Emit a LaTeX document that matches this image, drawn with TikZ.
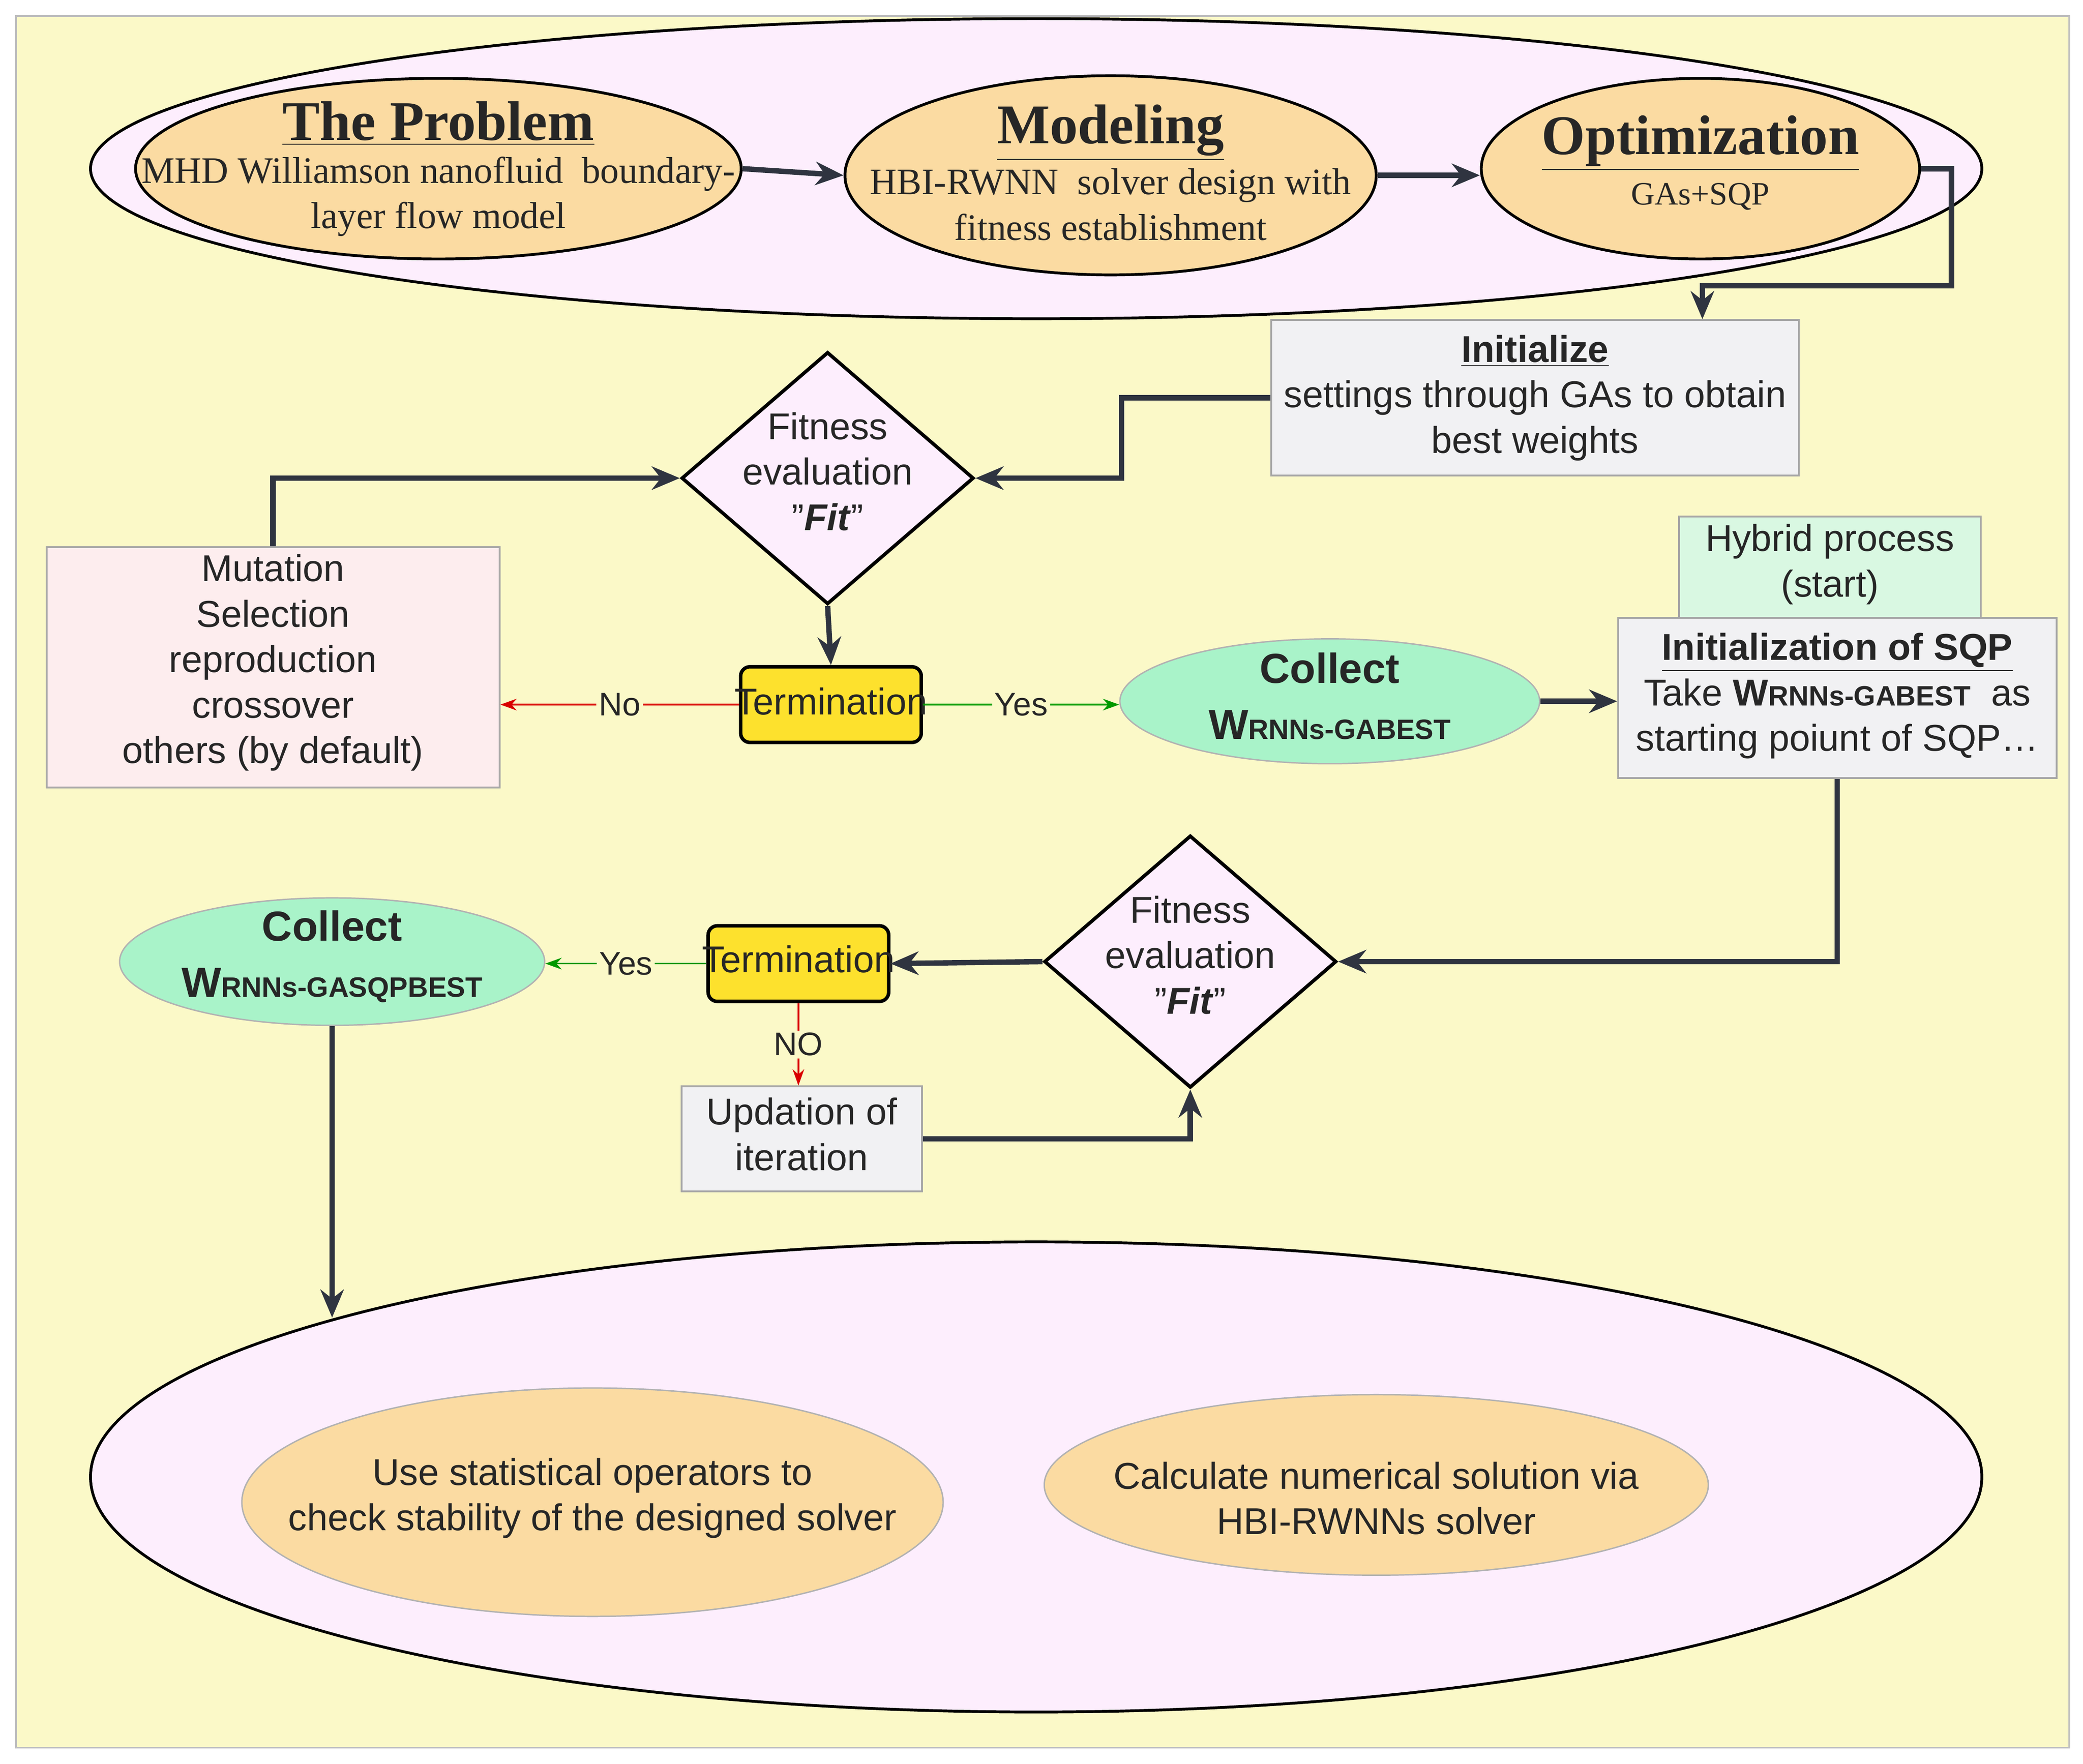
\documentclass[tikz,border=0pt]{standalone}
\usepackage{fontspec}
\setmainfont{Liberation Sans}
\newfontfamily\serifx{Liberation Serif}
\usetikzlibrary{shapes.geometric,arrows.meta}
\definecolor{bgc}{HTML}{FBF9C8}
\definecolor{pinkc}{HTML}{FDEEFD}
\definecolor{orc}{HTML}{FBDBA2}
\definecolor{grc}{HTML}{F1F1F3}
\definecolor{mpc}{HTML}{FDEDEE}
\definecolor{yc}{HTML}{FDE12D}
\definecolor{gc}{HTML}{A9F3C9}
\definecolor{lgc}{HTML}{D9F8E2}
\definecolor{lnc}{HTML}{2F3440}
\begin{document}
\begin{tikzpicture}[x=0.02cm,y=-0.02cm,
  ell/.style={ellipse,draw=black,line width=1.2pt,inner sep=0pt,align=center},
  box/.style={rectangle,draw=gray!70,line width=0.8pt,inner sep=0pt,align=center},
  dia/.style={diamond,draw=black,line width=1.5pt,fill=pinkc,inner sep=0pt,minimum width=4.4cm,minimum height=3.8cm,aspect=1.16},
  term/.style={rectangle,rounded corners=4pt,draw=black,line width=1.5pt,fill=yc,minimum width=2.72cm,minimum height=1.14cm,inner sep=0pt},
  thk/.style={draw=lnc,line width=2.3pt,-{Stealth[length=12pt,width=10pt]}},
  red/.style={draw=red!85!black,line width=0.7pt,-{Stealth[length=7pt,width=5pt]}},
  grn/.style={draw=green!60!black,line width=0.7pt,-{Stealth[length=7pt,width=5pt]}},
  txt/.style={font=\fontsize{16}{19.5}\selectfont,align=center,text=black!85},
  ttl/.style={font=\serifx\fontsize{24}{28}\selectfont\bfseries,text=black!85},
  sub/.style={font=\serifx\fontsize{16}{19.5}\selectfont,align=center,text=black!85}]
\useasboundingbox (0,0) rectangle (1568,1328);
\fill[white] (0,0) rectangle (1568,1328);
\node[box,fill=bgc,draw=gray!50,minimum width=30.92cm,minimum height=26.08cm] (bg) at (785,664) {};

% top
\node[ell,fill=pinkc,minimum width=28.48cm,minimum height=4.52cm] (top) at (780,127) {};
\node[ell,fill=orc,minimum width=9.12cm,minimum height=2.72cm] (prob) at (330,127) {};
\node[ttl] (probt) at (330,93) {\underline{The Problem}};
\node[sub] (probs) at (330,148) {MHD Williamson nanofluid\ \ boundary-\\layer flow model};
\node[ell,fill=orc,minimum width=8cm,minimum height=3cm] (model) at (836,132) {};
\node[ttl] (modelt) at (836,100) {\underline{Modeling}};
\node[sub] (models) at (836,154) {HBI-RWNN\ \ solver design with\\fitness establishment};
\node[ell,fill=orc,minimum width=6.6cm,minimum height=2.72cm] (opt) at (1280,127) {};
\node[ttl] (optt) at (1280,108) {\underline{Optimization}};
\node[sub,font=\serifx\fontsize{14}{17}\selectfont] (opts) at (1280,148) {GAs+SQP};

% middle
\node[box,fill=grc,minimum width=7.94cm,minimum height=2.34cm] (init) at (1155.5,299.5) {};
\node[txt] (initt) at (1155.5,299.5) {\textbf{\underline{Initialize}}\\settings through GAs to obtain\\best weights};
\node[dia] (d1) at (623,360) {};
\node[txt] (d1t) at (623,355) {Fitness\\evaluation\\"\textbf{\textit{Fit}}"};
\node[box,fill=mpc,minimum width=6.82cm,minimum height=3.62cm] (mut) at (205.5,502.5) {};
\node[txt] (mutt) at (205.5,499) {Mutation\\Selection\\reproduction\\crossover\\others (by default)};
\node[term] (t1) at (625.5,530.5) {};
\node[txt] (t1t) at (625.5,528) {Termination};
\node[ell,draw=gray!60,line width=0.6pt,fill=gc,minimum width=6.32cm,minimum height=1.88cm] (c1) at (1001,528) {};
\node[txt,font=\fontsize{18}{24}\selectfont\bfseries] (c1t) at (1001,524) {Collect\\{\fontsize{18}{20}\selectfont W}{\fontsize{12}{14}\selectfont RNNs-GABEST}};
\node[box,fill=lgc,minimum width=4.54cm,minimum height=1.58cm] (hyb) at (1377.5,428.5) {};
\node[txt] (hybt) at (1377.5,425) {Hybrid process\\(start)};
\node[box,fill=grc,minimum width=6.6cm,minimum height=2.42cm] (sqp) at (1383,525.5) {};
\node[txt] (sqpt) at (1383,524) {\textbf{\underline{Initialization of SQP}}\\Take {\bfseries W{\fontsize{12}{14}\selectfont RNNs-GABEST}}\ \ as\\starting poiunt of SQP\textellipsis};

% lower
\node[dia] (d2) at (896,724) {};
\node[txt] (d2t) at (896,719) {Fitness\\evaluation\\"\textbf{\textit{Fit}}"};
\node[term] (t2) at (601,725.5) {};
\node[txt] (t2t) at (601,722) {Termination};
\node[ell,draw=gray!60,line width=0.6pt,fill=gc,minimum width=6.4cm,minimum height=1.92cm] (c2) at (250,724) {};
\node[txt,font=\fontsize{18}{24}\selectfont\bfseries] (c2t) at (250,720) {Collect\\{\fontsize{18}{20}\selectfont W}{\fontsize{12}{14}\selectfont RNNs-GASQPBEST}};
\node[box,fill=grc,minimum width=3.62cm,minimum height=1.58cm] (upd) at (603.5,857.5) {};
\node[txt] (updt) at (603.5,854) {Updation of\\iteration};

% bottom
\node[ell,fill=pinkc,minimum width=28.48cm,minimum height=7.08cm] (bot) at (780,1112) {};
\node[ell,draw=gray!60,line width=0.6pt,fill=orc,minimum width=10.56cm,minimum height=3.44cm] (b1) at (446,1131) {};
\node[txt] (b1t) at (446,1128) {Use statistical operators to\\check stability of the designed solver};
\node[ell,draw=gray!60,line width=0.6pt,fill=orc,minimum width=10cm,minimum height=2.72cm] (b2) at (1036,1118) {};
\node[txt] (b2t) at (1036,1128) {Calculate numerical solution via\\HBI-RWNNs solver};
\coordinate (botin) at (250,992);

% connectors
\draw[thk] (prob.east) -- (model.west);
\draw[thk] (model.east) -- (model.east -| opt.west);
\draw[thk] (opt.east) -- ++(23,0) -- ++(0,88) -| ([xshift=2.52cm]init.north);
\draw[thk] (init.west) -- ++(-112,0) |- (d1.east);
\draw[thk] (mut.north) |- (d1.west);
\draw[thk] (d1.south) -- (t1.north);
\draw[red] (t1.west) -- node[fill=bgc,inner sep=1pt,txt,font=\fontsize{14}{16}\selectfont] (no1) {No} (t1.west -| mut.east);
\draw[grn] (t1.east) -- node[fill=bgc,inner sep=1pt,txt,font=\fontsize{14}{16}\selectfont] (yes1) {Yes} (t1.east -| c1.west);
\draw[thk] (c1.east) -- (c1.east -| sqp.west);
\draw[thk] (sqp.south) |- (d2.east);
\draw[thk] (d2.west) -- (t2.east);
\draw[grn] (t2.west) -- node[fill=bgc,inner sep=1pt,txt,font=\fontsize{14}{16}\selectfont] (yes2) {Yes} (t2.west -| c2.east);
\draw[red] (t2.south) -- node[fill=bgc,inner sep=1pt,txt,font=\fontsize{14}{16}\selectfont] (no2) {NO} (t2.south |- upd.north);
\draw[thk] (upd.east) -| (d2.south);
\draw[thk] (c2.south) -- (botin);
\end{tikzpicture}
\end{document}
